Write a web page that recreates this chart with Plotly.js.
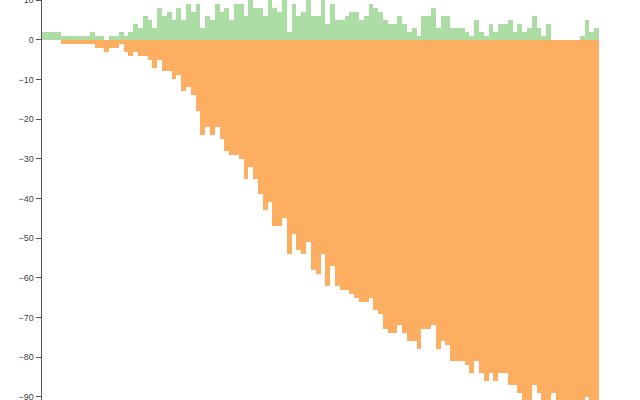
<!DOCTYPE html>
<html>
<head>
<meta charset="utf-8">
<script src="https://cdn.plot.ly/plotly-3.0.1.min.js"></script>
<style>
  html, body { margin: 0; padding: 0; background: #fff; }
  #chart { width: 640px; height: 400px; }
</style>
</head>
<body>
<div id="chart"></div>
<script>
// one bar per step, green goes up, orange goes down
var gains = [
  2, 2, 2, 2, 1, 1, 1, 1, 1, 1,
  2, 1, 1, 0, 1, 1, 2, 1, 2, 4,
  3, 6, 5, 3, 8, 6, 7, 5, 8, 5,
  9, 7, 9, 3, 6, 5, 9, 7, 8, 5,
  9, 9, 6, 10, 8, 8, 6, 10, 8, 7,
  10, 2, 9, 6, 7, 10, 6, 6, 10, 4,
  9, 5, 5, 6, 7, 7, 5, 6, 9, 8,
  7, 5, 4, 4, 6, 4, 2, 3, 1, 6,
  6, 8, 3, 6, 6, 3, 3, 3, 2, 1,
  5, 2, 1, 4, 2, 4, 4, 5, 2, 4,
  2, 3, 6, 3, 1, 4, 0, 0, 0, 0,
  0, 0, 1, 5, 2, 3
];

var losses = [
  0, 0, 0, 0, -1, -1, -1, -1, -1, -1,
  -1, -2, -2, -3, -2, -2, -1, -3, -4, -3,
  -4, -4, -5, -7, -5, -8, -8, -10, -9, -13,
  -12, -14, -18, -24, -22, -24, -22, -25, -28, -29,
  -29, -30, -35, -32, -35, -39, -43, -41, -47, -47,
  -45, -54, -49, -53, -54, -51, -58, -59, -54, -62,
  -57, -62, -63, -63, -64, -65, -66, -66, -65, -68,
  -69, -73, -74, -74, -72, -74, -76, -76, -78, -73,
  -73, -72, -78, -76, -77, -81, -81, -81, -82, -84,
  -81, -84, -86, -84, -86, -84, -84, -87, -87, -89,
  -92, -91, -87, -89, -92, -92, -89, -92, -92, -92,
  -92, -92, -92, -90, -92, -92
];

var steps = gains.map(function (v, i) { return i; });

var data = [
  {
    x: steps,
    y: gains,
    type: 'bar',
    marker: { color: '#abdda4' },
    hoverinfo: 'y'
  },
  {
    x: steps,
    y: losses,
    type: 'bar',
    marker: { color: '#fdae61' },
    hoverinfo: 'y'
  }
];

var layout = {
  width: 640,
  height: 400,
  barmode: 'relative',
  bargap: 0,
  showlegend: false,
  paper_bgcolor: '#fff',
  plot_bgcolor: '#fff',
  margin: { l: 42, r: 41, t: 0, b: 0 },
  font: { family: 'Liberation Sans, Arial, sans-serif', size: 9, color: '#444' },
  xaxis: {
    visible: false,
    showgrid: false,
    zeroline: false
  },
  yaxis: {
    range: [-90.8, 10.02],
    dtick: 10,
    showgrid: false,
    zeroline: false,
    showline: true,
    linecolor: '#555',
    linewidth: 1.5,
    ticks: 'outside',
    ticklen: 5,
    tickwidth: 1,
    tickcolor: '#555',
    ticklabeloverflow: 'allow',
    tickfont: { family: 'Liberation Sans, Arial, sans-serif', size: 9, color: '#444' }
  }
};

Plotly.newPlot('chart', data, layout, { displayModeBar: false, staticPlot: true });
</script>
</body>
</html>
